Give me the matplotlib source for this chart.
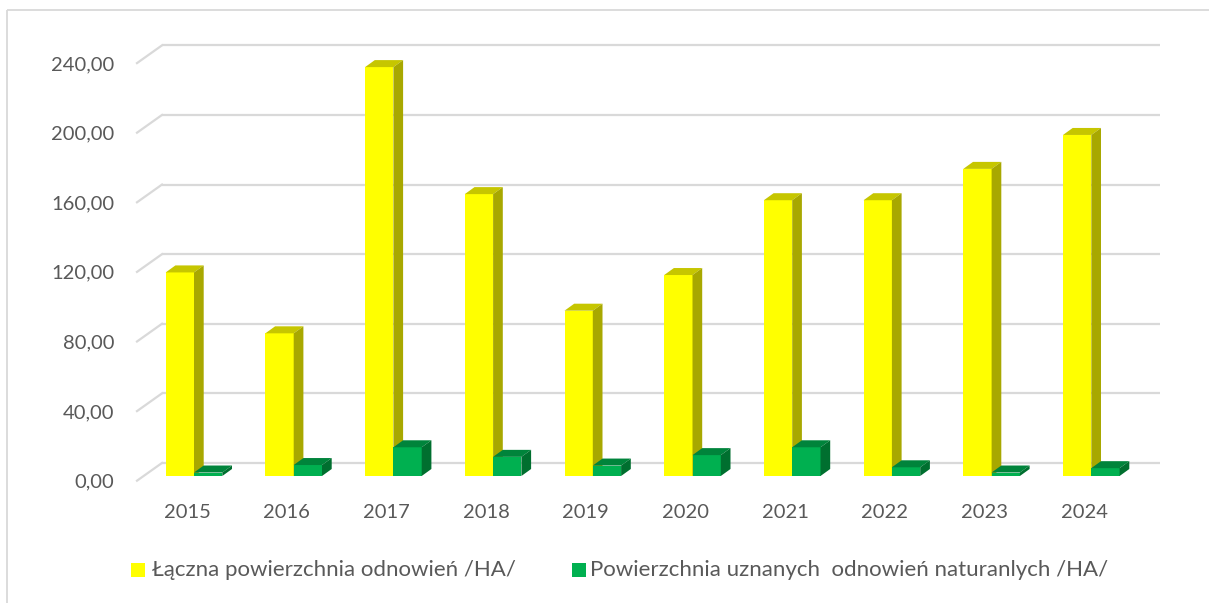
import matplotlib
matplotlib.use('Agg')
import matplotlib.pyplot as plt
from matplotlib.patches import Polygon, Rectangle

# ---- data ----
years = ['2015', '2016', '2017', '2018', '2019', '2020', '2021', '2022', '2023', '2024']
total = [117.0, 82.0, 235.0, 162.0, 95.0, 115.5, 158.5, 158.5, 176.5, 196.0]
natural = [2.0, 6.3, 16.5, 11.0, 6.0, 12.0, 16.5, 5.0, 2.0, 4.5]
yticks = [0, 40, 80, 120, 160, 200, 240]
series_names = ['Łączna powierzchnia odnowień /HA/',
                'Powierzchnia uznanych  odnowień naturanlych /HA/']

# ---- styles ----
FONT = ['Lato', 'DejaVu Sans']
TXT = '#595959'
GRID = '#D9D9D9'
YEL = ('#FFFF00', '#C6C600', '#A8A800')   # front, top, side
GRN = ('#00B050', '#00843B', '#006F2F')

W, H, DPI = 1209, 603, 100
fig = plt.figure(figsize=(W / DPI, H / DPI), dpi=DPI)
ax = fig.add_axes([0, 0, 1, 1])

PXC = 99.7        # px per category
X0 = 194.0        # px of category centre
Y0 = 476.0        # px of value 0 (bar front plane)
U = 40 / 69.6     # value units per px


def px2x(p):
    return (p - X0) / PXC


def py2v(p):
    return (Y0 - p) * U


ax.set_xlim(px2x(0), px2x(W))
ax.set_ylim(py2v(H), py2v(0))
ax.axis('off')

# chart frame
ax.plot([px2x(7), px2x(7)], [py2v(9.5), py2v(H + 5)], color=GRID, lw=1.3,
        solid_capstyle='butt')
ax.plot([px2x(7), px2x(W + 5)], [py2v(9.5), py2v(9.5)], color=GRID, lw=1.3,
        solid_capstyle='butt')

# back wall gridlines + left wall diagonals
BACK = 7.5
FRONT = -2.7
for v in yticks:
    ax.plot([px2x(162), px2x(1160)], [v + BACK, v + BACK], color=GRID, lw=1.6,
            solid_capstyle='butt', zorder=1)
    ax.plot([px2x(137), px2x(162)], [v + FRONT, v + BACK], color=GRID, lw=1.6,
            zorder=1)
    ax.text(px2x(114), v - 3.5, f'{v:.2f}'.replace('.', ','), ha='right',
            va='center', fontsize=14.5, color=TXT, family=FONT)

# bars with 3D faces
bw = 28.3 / PXC
dx = 9.7 / PXC
dy = 7.0 * U


def box(x0, h, cols, z):
    x1 = x0 + bw
    ax.add_patch(Rectangle((x0, 0), bw, h, facecolor=cols[0], edgecolor='none',
                           zorder=z))
    ax.add_patch(Polygon([(x0, h), (x0 + dx, h + dy), (x1 + dx, h + dy), (x1, h)],
                         closed=True, facecolor=cols[1], edgecolor='none', zorder=z))
    ax.add_patch(Polygon([(x1, 0), (x1 + dx, dy), (x1 + dx, h + dy), (x1, h)],
                         closed=True, facecolor=cols[2], edgecolor='none', zorder=z))


for i, (t, n) in enumerate(zip(total, natural)):
    box(i - bw, t, YEL, 3 + 2 * i)
    box(i, n, GRN, 4 + 2 * i)
    ax.text(i - 0.07, py2v(513), years[i], ha='center', va='center',
            fontsize=14.5, color=TXT, family=FONT)

# legend
ly = py2v(570)
sq = 13.5
for (xs, xt), cols, name in zip([(131, 152), (572, 590)], [YEL, GRN], series_names):
    ax.add_patch(Rectangle((px2x(xs), py2v(570 + sq / 2)), sq / PXC, sq * U,
                           facecolor=cols[0], edgecolor='none'))
    ax.text(px2x(xt), ly, name, ha='left', va='center', fontsize=16,
            color=TXT, family=FONT)

fig.savefig('out.png', dpi=DPI)
